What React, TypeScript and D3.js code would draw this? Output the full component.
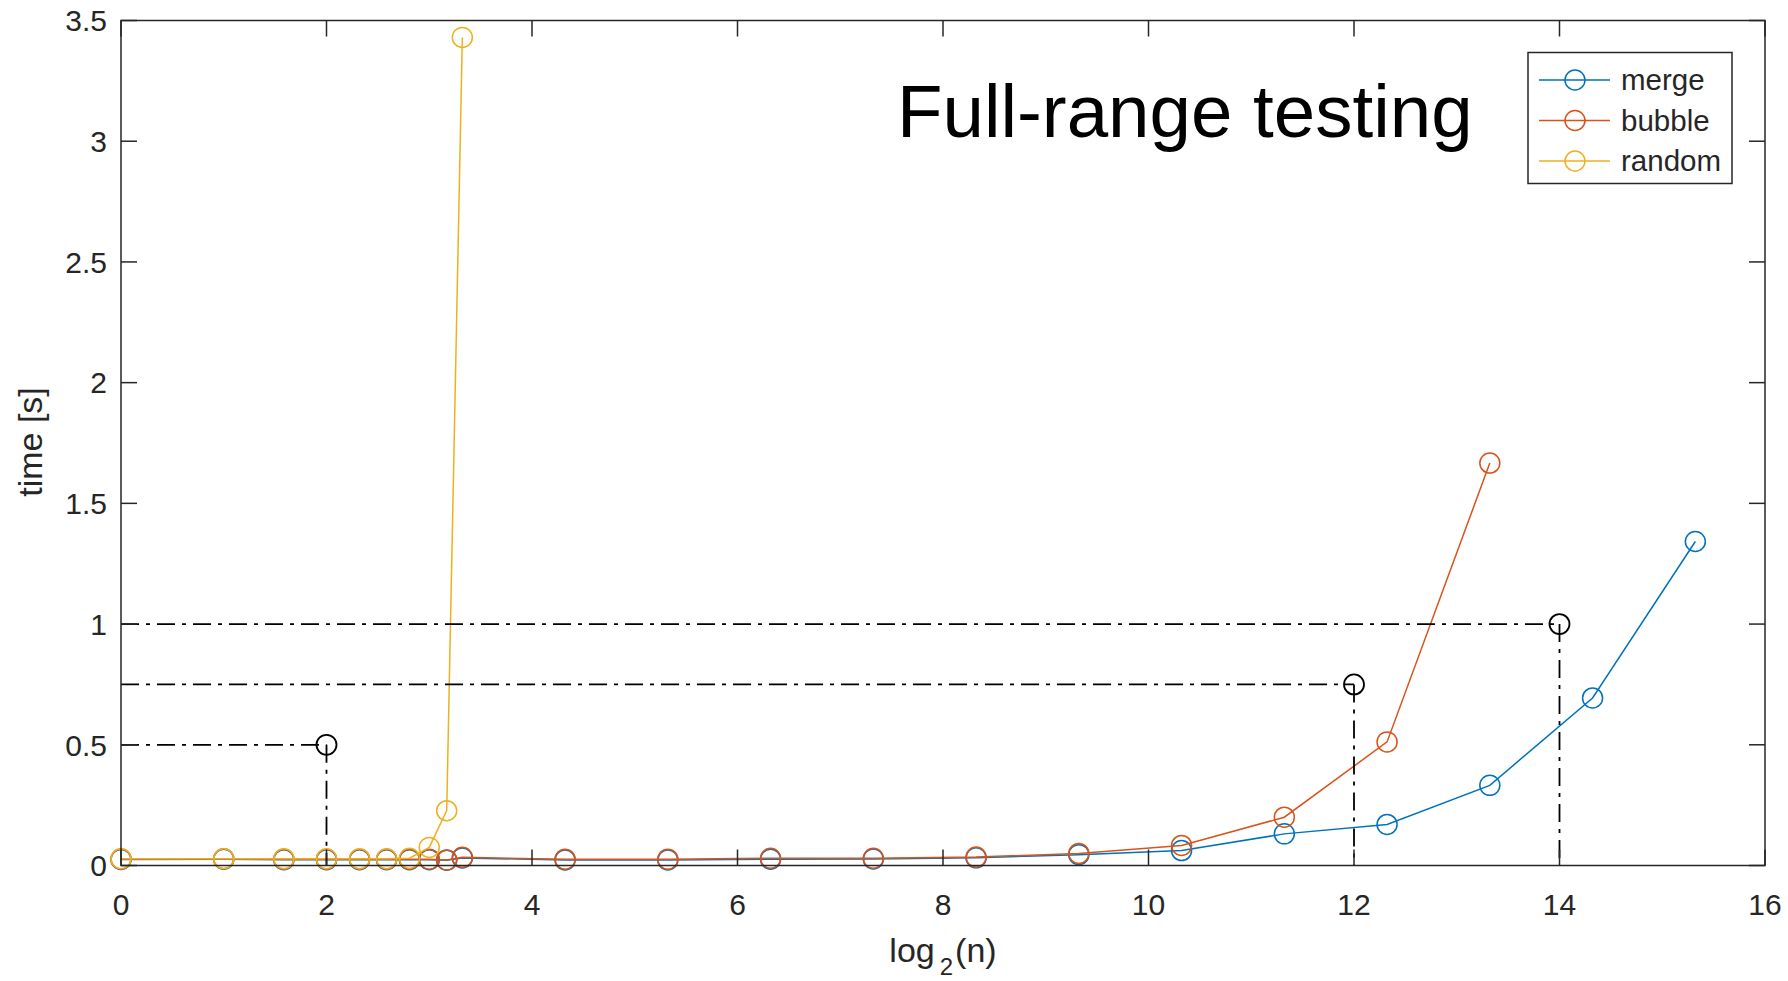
import { scaleLinear, line } from "d3";

const sizes = [1, 2, 3, 4, 5, 6, 7, 8, 9, 10, 20, 40, 80, 160, 320, 640, 1280, 2560, 5120, 10240, 20480, 40960];

const mergeTime = [0.025, 0.026, 0.024, 0.024, 0.024, 0.024, 0.024, 0.024, 0.022, 0.031, 0.023, 0.023, 0.026, 0.027, 0.032, 0.045, 0.062, 0.131, 0.17, 0.332, 0.694, 1.342];
const bubbleTime = [0.027, 0.028, 0.026, 0.026, 0.026, 0.026, 0.026, 0.026, 0.023, 0.034, 0.026, 0.026, 0.03, 0.03, 0.035, 0.05, 0.083, 0.2, 0.512, 1.667];
const randomTime = [0.028, 0.028, 0.028, 0.028, 0.028, 0.028, 0.03, 0.075, 0.227, 3.43];

const seriesNames = ["merge", "bubble", "random"];
const seriesColors = ["#0072BD", "#D95319", "#EDB120"];

// black reference markers with dash-dot guides
const refX = [2, 12, 14];
const refY = [0.5, 0.75, 1];

const xTicks = [0, 2, 4, 6, 8, 10, 12, 14, 16];
const yTicks = [0, 0.5, 1, 1.5, 2, 2.5, 3, 3.5];

const App = () => {
  const width = 1788;
  const height = 981;
  const margin = { top: 20.5, right: 23, bottom: 115.5, left: 121 };
  const innerW = width - margin.left - margin.right;
  const innerH = height - margin.top - margin.bottom;

  const x = scaleLinear().domain([0, 16]).range([0, innerW]);
  const y = scaleLinear().domain([0, 3.5]).range([innerH, 0]);

  const series = [mergeTime, bubbleTime, randomTime].map((vals, i) => ({
    name: seriesNames[i],
    color: seriesColors[i],
    points: vals.map((v, j) => [Math.log2(sizes[j]), v] as [number, number]),
  }));

  const path = line<[number, number]>()
    .x(d => x(d[0]))
    .y(d => y(d[1]));

  const tickLen = 16;
  const axisColor = "#262626";
  const font = "'Liberation Sans', Arial, Helvetica, sans-serif";

  return (
    <svg
      width={width}
      height={height}
      style={{ position: "absolute", left: 0, top: 0, background: "#fff" }}
      fontFamily={font}
    >
      <g transform={`translate(${margin.left},${margin.top})`}>
        {series.map(s => (
          <g key={s.name}>
            <path d={path(s.points) || ""} fill="none" stroke={s.color} strokeWidth={1.5} />
            {s.points.map((p, j) => (
              <circle key={j} cx={x(p[0])} cy={y(p[1])} r={10} fill="none" stroke={s.color} strokeWidth={1.5} />
            ))}
          </g>
        ))}

        {refX.map((rx, i) => (
          <g key={i} stroke="#000" strokeWidth={1.8} fill="none">
            <line x1={x(0)} x2={x(rx)} y1={y(refY[i])} y2={y(refY[i])} strokeDasharray="18 7 4 7" />
            <line x1={x(rx)} x2={x(rx)} y1={y(refY[i])} y2={y(0)} strokeDasharray="18 7 4 7" />
            <circle cx={x(rx)} cy={y(refY[i])} r={10} />
          </g>
        ))}

        {/* frame and inward ticks */}
        <rect x={0} y={0} width={innerW} height={innerH} fill="none" stroke={axisColor} strokeWidth={1.5} />
        {xTicks.map(t => (
          <g key={t} stroke={axisColor} strokeWidth={1.5}>
            <line x1={x(t)} x2={x(t)} y1={innerH} y2={innerH - tickLen} />
            <line x1={x(t)} x2={x(t)} y1={0} y2={tickLen} />
          </g>
        ))}
        {yTicks.map(t => (
          <g key={t} stroke={axisColor} strokeWidth={1.5}>
            <line x1={0} x2={tickLen} y1={y(t)} y2={y(t)} />
            <line x1={innerW} x2={innerW - tickLen} y1={y(t)} y2={y(t)} />
          </g>
        ))}
        {xTicks.map(t => (
          <text key={t} x={x(t)} y={innerH + 49} textAnchor="middle" fontSize={30} fill={axisColor}>
            {t}
          </text>
        ))}
        {yTicks.map(t => (
          <text key={t} x={-14} y={y(t)} dy="0.36em" textAnchor="end" fontSize={30} fill={axisColor}>
            {t}
          </text>
        ))}

        <text x={innerW / 2} y={innerH + 96} textAnchor="middle" fontSize={34} fill={axisColor}>
          log<tspan dx={5} dy={13} fontSize={24}>2</tspan><tspan dx={2} dy={-13}>(n)</tspan>
        </text>
        <text
          transform={`translate(${42 - margin.left},${innerH / 2 - 1}) rotate(-90)`}
          textAnchor="middle"
          fontSize={34}
          fill={axisColor}
        >
          time [s]
        </text>

        <text x={897 - margin.left} y={137 - margin.top} fontSize={74.5} fill="#000">
          Full-range testing
        </text>

        {/* legend */}
        <g transform={`translate(${1528 - margin.left},${52.5 - margin.top})`}>
          <rect x={0} y={0} width={204} height={131} fill="#fff" stroke={axisColor} strokeWidth={1.5} />
          {series.map((s, i) => (
            <g key={s.name} transform={`translate(0,${27.5 + i * 40.5})`}>
              <line x1={11} x2={82} y1={0} y2={0} stroke={s.color} strokeWidth={1.5} />
              <circle cx={47} cy={0} r={10} fill="none" stroke={s.color} strokeWidth={1.5} />
              <text x={93} y={0} dy="0.35em" fontSize={29.5} fill={axisColor}>
                {s.name}
              </text>
            </g>
          ))}
        </g>
      </g>
    </svg>
  );
};

export default App;
